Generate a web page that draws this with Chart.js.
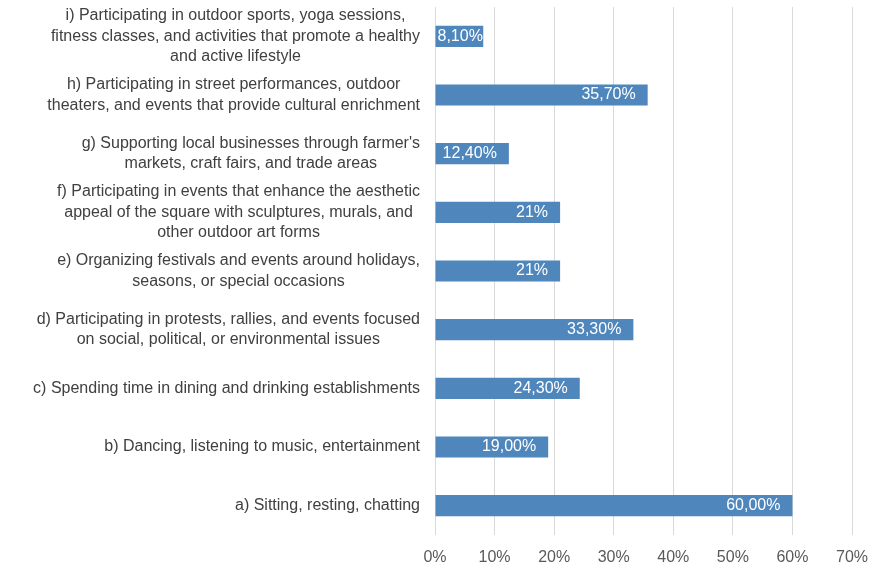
<!DOCTYPE html>
<html><head><meta charset="utf-8">
<script src="https://cdn.jsdelivr.net/npm/chart.js@4/dist/chart.umd.min.js"></script>
<style>html,body{margin:0;padding:0;background:#fff;}#wrap{width:869px;height:567px;}</style>
</head><body><div id="wrap"><canvas id="c" width="869" height="567"></canvas></div>
<script>
const categories = [
  ["i) Participating in outdoor sports, yoga sessions,", "fitness classes, and activities that promote a healthy", "and active lifestyle"],
  ["h) Participating in street performances, outdoor", "theaters, and events that provide cultural enrichment"],
  ["g) Supporting local businesses through farmer's", "markets, craft fairs, and trade areas"],
  ["f) Participating in events that enhance the aesthetic", "appeal of the square with sculptures, murals, and", "other outdoor art forms"],
  ["e) Organizing festivals and events around holidays,", "seasons, or special occasions"],
  ["d) Participating in protests, rallies, and events focused", "on social, political, or environmental issues"],
  ["c) Spending time in dining and drinking establishments"],
  ["b) Dancing, listening to music, entertainment"],
  ["a) Sitting, resting, chatting"]
];
const values = [8.1, 35.7, 12.4, 21, 21, 33.3, 24.3, 19, 60];
const valueLabels = ["8,10%", "35,70%", "12,40%", "21%", "21%", "33,30%", "24,30%", "19,00%", "60,00%"];
const xTicks = [0, 10, 20, 30, 40, 50, 60, 70];

const FONT = '"Liberation Sans", Arial, sans-serif';

const labelPlugin = {
  id: 'labels',
  afterDatasetsDraw(chart) {
    const ctx = chart.ctx;
    const y = chart.scales.y;
    const meta = chart.getDatasetMeta(0);
    ctx.save();
    ctx.font = '16px ' + FONT;
    ctx.textBaseline = 'middle';
    const rightEdge = 420;
    const lh = 20.5;
    categories.forEach((lines, i) => {
      const cy = y.getPixelForTick(i);
      const widest = Math.max(...lines.map(l => ctx.measureText(l).width));
      const cx = rightEdge - widest / 2;
      ctx.fillStyle = '#404040';
      ctx.textAlign = 'center';
      lines.forEach((l, j) => {
        ctx.fillText(l, cx, cy + (j - (lines.length - 1) / 2) * lh);
      });
    });
    ctx.fillStyle = '#ffffff';
    ctx.textAlign = 'left';
    meta.data.forEach((bar, i) => {
      const t = valueLabels[i];
      const w = ctx.measureText(t).width;
      let x = bar.x - 12 - w;
      if (x < bar.base + 2) x = bar.base + 2;
      ctx.fillText(t, x, bar.y);
    });
    ctx.restore();
  }
};

new Chart(document.getElementById('c'), {
  type: 'bar',
  data: {
    labels: categories,
    datasets: [{
      data: values,
      backgroundColor: '#4f87bd',
      borderWidth: 0,
      barPercentage: 0.36,
      categoryPercentage: 1.0
    }]
  },
  options: {
    indexAxis: 'y',
    responsive: false,
    animation: false,
    devicePixelRatio: 1,
    layout: { padding: { top: 7, right: 0, bottom: 0, left: 0 } },
    plugins: { legend: { display: false }, tooltip: { enabled: false } },
    scales: {
      x: {
        min: 0, max: 70,
        afterBuildTicks(scale) { scale.ticks = xTicks.map(v => ({ value: v })); },
        afterFit(scale) { scale.height = 32; scale.paddingRight = 17; scale.paddingLeft = 0; },
        grid: { color: '#d9d9d9', lineWidth: 1, drawTicks: false },
        border: { display: false },
        ticks: {
          padding: 13,
          color: '#595959',
          font: { family: FONT, size: 16 },
          callback: v => v + '%'
        }
      },
      y: {
        afterFit(scale) { scale.width = 435; },
        grid: { display: false },
        border: { display: false },
        ticks: { display: false }
      }
    }
  },
  plugins: [labelPlugin]
});
</script>
</body></html>
